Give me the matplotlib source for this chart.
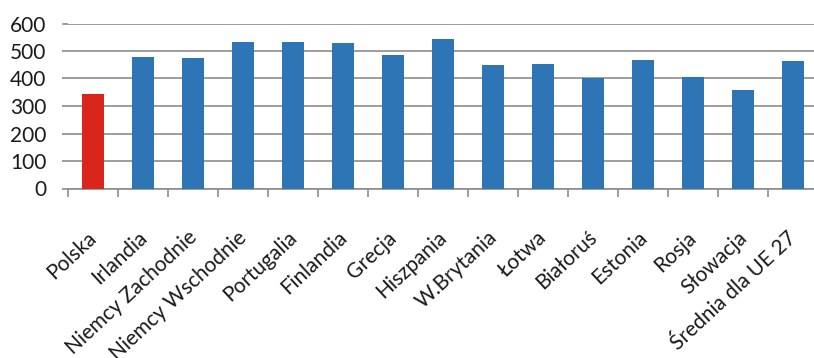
import matplotlib
matplotlib.use("Agg")
import matplotlib.pyplot as plt
import matplotlib.transforms as mtransforms
import numpy as np

# ── Dane ──────────────────────────────────────────────────────────────────────
kraje = [
    "Polska", "Irlandia", "Niemcy Zachodnie", "Niemcy Wschodnie", "Portugalia",
    "Finlandia", "Grecja", "Hiszpania", "W.Brytania", "Łotwa", "Białoruś",
    "Estonia", "Rosja", "Słowacja", "Średnia dla UE 27",
]
wartosci = [345, 477, 474, 534, 534, 530, 487, 542, 448, 453, 401, 469, 406, 359, 465]
wyrozniony = "Polska"

NIEBIESKI = "#2E75B6"
CZERWONY  = "#D9261C"
SZARY     = "#8C8C8C"

plt.rcParams["font.family"] = ["Lato", "DejaVu Sans"]

fig = plt.figure(figsize=(8.14, 3.58), dpi=100)
W, H = 814, 358
ax = fig.add_axes([68 / W, 1 - 188.5 / H, 750 / W, (188.5 - 23.5) / H])

x = np.arange(len(kraje))
kolory = [CZERWONY if k == wyrozniony else NIEBIESKI for k in kraje]
ax.bar(x, wartosci, width=0.43, color=kolory, zorder=3)

ax.set_xlim(-0.5, len(kraje) - 0.5)
ax.set_ylim(0, 600)
ax.set_yticks(range(0, 601, 100))
ax.grid(axis="y", color=SZARY, linewidth=1.2, zorder=0)

for s in ["left", "right", "top"]:
    ax.spines[s].set_visible(False)
ax.spines["bottom"].set_color(SZARY)
ax.spines["bottom"].set_linewidth(1.2)

ax.tick_params(axis="y", length=4.5, width=1.2, color=SZARY, pad=11,
               labelsize=15, labelcolor="#1a1a1a")

# kreski między kategoriami, podpisy pod środkiem słupków
ax.set_xticks(x)
ax.set_xticks(np.arange(-0.5, len(kraje)), minor=True)
ax.tick_params(axis="x", which="major", length=0, pad=28)
ax.tick_params(axis="x", which="minor", length=6, width=1.2, color=SZARY)
ax.set_xticklabels(kraje, rotation=43, ha="right", va="top",
                   rotation_mode="anchor", fontsize=15, color="#1a1a1a")
przes = mtransforms.ScaledTranslation(-6 / 100, 0, fig.dpi_scale_trans)
for lab in ax.get_xticklabels():
    lab.set_transform(lab.get_transform() + przes)

fig.savefig("out.png", dpi=100)
